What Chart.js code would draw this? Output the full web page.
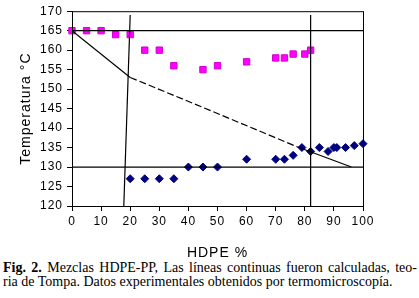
<!DOCTYPE html>
<html>
<head>
<meta charset="utf-8">
<script src="https://cdn.jsdelivr.net/npm/chart.js@4.4.0/dist/chart.umd.min.js"></script>
<style>
  html, body { margin: 0; padding: 0; background: #fff; }
  #wrap { width: 419px; height: 264px; position: relative; }
  #cap { font-family: "Liberation Serif", "Times New Roman", serif; font-size: 14px; line-height: 14px; color: #000; padding: 0 2px 0 3px; margin-top: -3px; }
  #cap .l1 { text-align: justify; text-align-last: justify; }
</style>
</head>
<body>
<div id="wrap"><canvas id="chart"></canvas></div>
<div id="cap">
  <div class="l1"><b>Fig. 2.</b> Mezclas HDPE-PP, Las líneas continuas fueron calculadas, teo-</div>
  <div>ria de Tompa. Datos experimentales obtenidos por termomicroscopía.</div>
</div>
<script>
// puntos experimentales (termomicroscopia)
const ppX = [0, 5, 10, 15, 20, 25, 30, 35, 45, 50, 60, 70, 73, 76, 80, 82];
const ppY = [165, 165, 165, 164, 164, 160, 160, 156, 155, 156, 157, 158, 158, 159, 159, 160];
const peX = [20, 25, 30, 35, 40, 45, 50, 60, 70, 73, 76, 79, 82, 85, 88, 90, 91, 94, 97, 100];
const peY = [127, 127, 127, 127, 130, 130, 130, 132, 132, 132, 133, 135, 134, 135, 134, 135, 135, 135, 135.5, 136];

// lineas calculadas
const liqSolidX = [0, 20];
const liqSolidY = [165, 153];
const liqDashX = [20, 45, 78];
const liqDashY = [153, 145.3, 135];
const liqEndX = [78, 96];
const liqEndY = [135, 130];
const h165X = [0, 100];
const h165Y = [165, 165];
const h130X = [0, 100];
const h130Y = [130, 130];
const vLeftX = [17.8, 20];
const vLeftY = [120, 169];
const vRightX = [82, 82];
const vRightY = [120, 169];

const xTicks = [0, 10, 20, 30, 40, 50, 60, 70, 80, 90, 100];
const yTicks = [120, 125, 130, 135, 140, 145, 150, 155, 160, 165, 170];

function pts(xs, ys) {
    return xs.map((x, i) => ({ x: x, y: ys[i] }));
}

function lineSet(xs, ys, dash) {
    return {
        data: pts(xs, ys),
        showLine: true,
        borderColor: '#000',
        borderWidth: 1.2,
        borderDash: dash || [],
        pointRadius: 0,
        fill: false
    };
}

// marco del area de grafico + espaciado de letras tipo Excel
const boxPlugin = {
    id: 'box',
    beforeDraw(chart) {
        chart.ctx.letterSpacing = '1px';
    },
    afterDatasetsDraw(chart) {
        const a = chart.chartArea, ctx = chart.ctx;
        ctx.save();
        ctx.strokeStyle = '#000';
        ctx.lineWidth = 1;
        ctx.strokeRect(a.left + 0.5, a.top + 0.5, a.right - a.left, a.bottom - a.top);
        ctx.restore();
    }
};

new Chart(document.getElementById('chart'), {
    type: 'scatter',
    data: {
        datasets: [
            lineSet(h165X, h165Y),
            lineSet(h130X, h130Y),
            lineSet(vLeftX, vLeftY),
            lineSet(vRightX, vRightY),
            lineSet(liqSolidX, liqSolidY),
            lineSet(liqDashX, liqDashY, [7, 3]),
            lineSet(liqEndX, liqEndY),
            {
                data: pts(ppX, ppY),
                clip: false,
                pointStyle: 'rect',
                pointRadius: 4.5,
                backgroundColor: '#ff00ff',
                borderColor: '#d000d0',
                borderWidth: 1
            },
            {
                data: pts(peX, peY),
                clip: false,
                pointStyle: 'rectRot',
                pointRadius: 4,
                backgroundColor: '#000080',
                borderColor: '#000080',
                borderWidth: 1
            }
        ]
    },
    options: {
        responsive: true,
        maintainAspectRatio: false,
        animation: false,
        layout: { padding: { top: 5, right: 56, left: 0, bottom: 0 } },
        plugins: {
            legend: { display: false },
            tooltip: { enabled: false }
        },
        scales: {
            x: {
                type: 'linear',
                min: 0, max: 100,
                afterBuildTicks: s => { s.ticks = xTicks.map(v => ({ value: v })); },
                afterFit: s => { s.height = 58; },
                grid: { drawOnChartArea: false, tickLength: 5, color: '#000' },
                border: { color: '#000' },
                ticks: { color: '#000', font: { family: 'Liberation Sans, Arial', size: 12 }, padding: 3, maxRotation: 0 },
                title: { display: true, text: 'HDPE %', color: '#000', font: { family: 'Liberation Sans, Arial', size: 14 }, padding: { top: 4, bottom: 2 } }
            },
            y: {
                type: 'linear',
                min: 120, max: 170,
                afterBuildTicks: s => { s.ticks = yTicks.map(v => ({ value: v })); },
                afterFit: s => { s.width = 72; },
                grid: { drawOnChartArea: false, tickLength: 5, color: '#000' },
                border: { color: '#000' },
                ticks: { color: '#000', font: { family: 'Liberation Sans, Arial', size: 12 }, padding: 4 },
                title: { display: true, text: 'Temperatura °C', color: '#000', font: { family: 'Liberation Sans, Arial', size: 14 }, padding: { top: 17.5, bottom: 0 } }
            }
        }
    },
    plugins: [boxPlugin]
});
</script>
</body>
</html>
